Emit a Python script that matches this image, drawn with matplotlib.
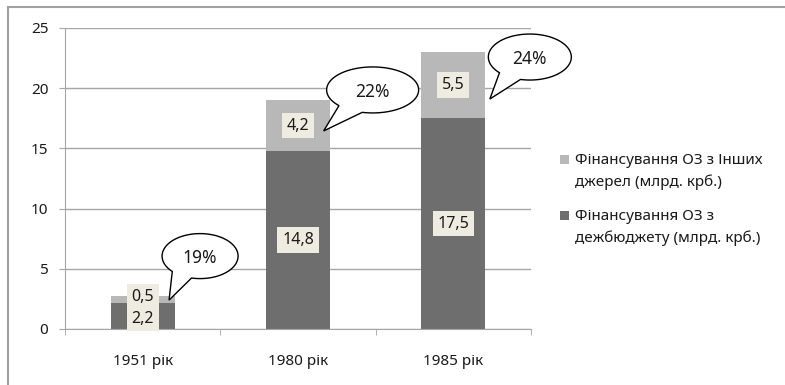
import matplotlib.pyplot as plt
import numpy as np
from matplotlib.patches import Rectangle, PathPatch
from matplotlib.path import Path
from matplotlib.transforms import ScaledTranslation

plt.rcParams['font.family'] = ['Noto Sans', 'DejaVu Sans']

years = ['1951 рік', '1980 рік', '1985 рік']
budget = [2.2, 14.8, 17.5]     # дежбюджет
other = [0.5, 4.2, 5.5]        # інші джерела
budget_label = 'Фінансування ОЗ з\nдежбюджету (млрд. крб.)'
other_label = 'Фінансування ОЗ з Інших\nджерел (млрд. крб.)'

# callout layout: tail tip (data) and ellipse centre offset from tip (pixels)
tip_pos = [(0.17, 2.4), (1.165, 16.45), (2.235, 19.1)]
bubble_off = [(31, 44), (49, 41), (40, 42)]
bubble_size = [(76, 45), (92, 46), (83, 46)]

dark = '#6e6e6e'
light = '#b8b8b8'
gridc = '#a6a6a6'
txtc = '#1a1a1a'

W, H = 785, 385
fig = plt.figure(figsize=(W / 100, H / 100), dpi=100)
ax = fig.add_axes([65/W, 1-329/H, 466/W, 301/H])

# outer chart frame
fig.patches.append(Rectangle((8/W, -0.1), 1.2, 1-7/H+0.1, transform=fig.transFigure,
                             fill=False, edgecolor='#a0a0a0', lw=1.5))

x = np.arange(len(years))
w = 0.41
b1 = ax.bar(x, budget, w, color=dark, label=budget_label, zorder=2)
b2 = ax.bar(x, other, w, bottom=budget, color=light, label=other_label, zorder=2)

ax.set_ylim(0, 25)
ax.set_xlim(-0.5, 2.5)

# value labels, pushed apart when the two segments are too small
px_per_unit = 301 / 25
min_sep = 22
box = dict(boxstyle='square,pad=0.3', fc='#eeece1', ec='none')
for i in range(len(years)):
    sep = (budget[i] / 2 + other[i] / 2) * px_per_unit
    push = max(0, (min_sep - sep) / 2)
    ax.annotate(f'{budget[i]:.1f}'.replace('.', ','), (x[i], budget[i] / 2),
                xytext=(0, -push * 0.72), textcoords='offset points', ha='center', va='center',
                fontsize=11.5, color=txtc, bbox=box, zorder=4)
    ax.annotate(f'{other[i]:.1f}'.replace('.', ','), (x[i], budget[i] + other[i] / 2),
                xytext=(0, push * 0.72), textcoords='offset points', ha='center', va='center',
                fontsize=11.5, color=txtc, bbox=box, zorder=4)

# speech bubbles with share of other sources
for i in range(len(years)):
    pct = round(100 * other[i] / (budget[i] + other[i]))
    tx, ty = tip_pos[i]
    ox, oy = bubble_off[i]
    a, b = bubble_size[i][0] / 2, bubble_size[i][1] / 2
    th = np.radians(np.linspace(257, 223 + 360, 120))
    px = list(ox + a * np.cos(th)) + [0]
    py = list(oy + b * np.sin(th)) + [0]
    verts = np.column_stack([px, py]) / 100.0
    verts = np.vstack([verts, verts[:1]])
    codes = [Path.MOVETO] + [Path.LINETO] * (len(verts) - 2) + [Path.CLOSEPOLY]
    tr = fig.dpi_scale_trans + ScaledTranslation(tx, ty, ax.transData)
    ax.add_patch(PathPatch(Path(verts, codes), transform=tr, fc='white', ec='black',
                           lw=1.0, clip_on=False, zorder=5))
    ax.text(ox / 100, oy / 100 - 0.02, f'{pct}%', transform=tr, ha='center', va='center',
            fontsize=12.5, color=txtc, zorder=6, clip_on=False)

ax.set_yticks(range(0, 26, 5))
ax.yaxis.grid(True, color=gridc, lw=1, zorder=0)
ax.set_axisbelow(True)
ax.set_xticks(x)
ax.set_xticklabels(years)
ax.set_xticks([-0.5, 0.5, 1.5, 2.5], minor=True)
ax.tick_params(axis='x', which='major', length=0, pad=18, labelsize=11, labelcolor=txtc)
ax.tick_params(axis='x', which='minor', length=4, color=gridc, direction='out')
ax.tick_params(axis='y', length=4, color=gridc, pad=8, labelsize=11, labelcolor=txtc)
for s in ['top', 'right']:
    ax.spines[s].set_visible(False)
for s in ['left', 'bottom']:
    ax.spines[s].set_color(gridc)

# legend drawn by hand so the square sits on the first text line
for line_y, lab, col in [(159, other_label, light), (215, budget_label, dark)]:
    fig.patches.append(Rectangle((560/W, 1-(line_y+4.5)/H), 9/W, 9/H,
                                 transform=fig.transFigure, fc=col, ec='none'))
    fig.text(575/W, 1-(line_y-6)/H, lab, ha='left', va='top', fontsize=11,
             color=txtc, linespacing=1.55)

fig.savefig('out.png', dpi=100)
